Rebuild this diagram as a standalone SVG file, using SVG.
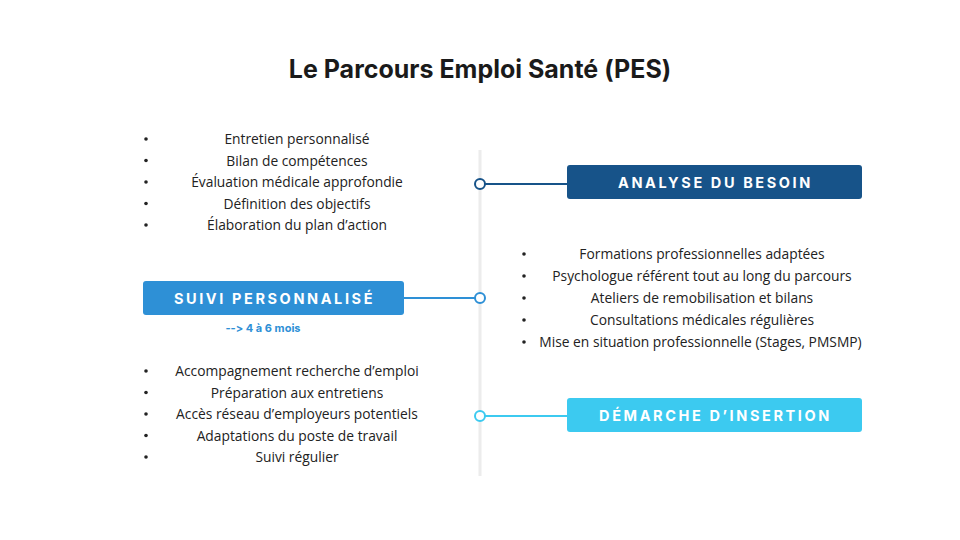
<svg xmlns="http://www.w3.org/2000/svg" width="960" height="540" viewBox="0 0 960 540">
<style>
text{font-variant-ligatures:none;font-feature-settings:"calt" 0,"liga" 0}
.title{font-family:Inter,"Liberation Sans",sans-serif;font-weight:700;font-size:25px;fill:#1a1a1a}
.item{font-family:"Open Sans","Liberation Sans",sans-serif;font-size:13.8px;fill:#222;text-anchor:middle}
.dot{fill:#222}
.lbl{font-family:Inter,"Liberation Sans",sans-serif;font-weight:700;font-size:14.5px;fill:#fff;letter-spacing:2.6px;text-anchor:middle}
.sub{font-family:Inter,"Liberation Sans",sans-serif;font-weight:700;font-size:11px;fill:#2e90d6;text-anchor:middle}
</style>
<rect width="960" height="540" fill="#fff"/>
<text class="title" x="480" y="78" text-anchor="middle">Le Parcours Emploi Santé (PES)</text>
<g id="connectors">
<line x1="480" y1="150" x2="480" y2="476" stroke="#ececec" stroke-width="3"/>
<line x1="485" y1="184" x2="568" y2="184" stroke="#175389" stroke-width="2"/>
<line x1="404" y1="298" x2="475" y2="298" stroke="#2e90d6" stroke-width="2"/>
<line x1="485" y1="416" x2="568" y2="416" stroke="#3ccaf0" stroke-width="2"/>
<circle cx="480" cy="184" r="5" fill="#fff" stroke="#175389" stroke-width="2"/>
<circle cx="480" cy="298" r="5" fill="#fff" stroke="#2e90d6" stroke-width="2"/>
<circle cx="480" cy="416" r="5" fill="#fff" stroke="#3ccaf0" stroke-width="2"/>
</g>
<g id="analyse">
<rect x="567" y="165" width="295" height="34" rx="3" fill="#175389"/>
<text class="lbl" x="715.5" y="187.5">ANALYSE DU BESOIN</text>
</g>
<g id="suivi">
<rect x="143" y="281" width="261" height="34" rx="3" fill="#2e90d6"/>
<text class="lbl" x="274.5" y="303.5">SUIVI PERSONNALISÉ</text>
<text class="sub" x="263" y="332">--&gt; 4 à 6 mois</text>
</g>
<g id="demarche">
<rect x="567" y="398" width="295" height="34" rx="3" fill="#3ccaf0"/>
<text class="lbl" x="715.5" y="420.5">DÉMARCHE D’INSERTION</text>
</g>
<g id="list-analyse">
<circle class="dot" cx="146" cy="139" r="1.8"/><text class="item" x="297" y="144">Entretien personnalisé</text>
<circle class="dot" cx="146" cy="160.5" r="1.8"/><text class="item" x="297" y="165.5">Bilan de compétences</text>
<circle class="dot" cx="146" cy="182" r="1.8"/><text class="item" x="297" y="187">Évaluation médicale approfondie</text>
<circle class="dot" cx="146" cy="203.5" r="1.8"/><text class="item" x="297" y="208.5">Définition des objectifs</text>
<circle class="dot" cx="146" cy="225" r="1.8"/><text class="item" x="297" y="230">Élaboration du plan d’action</text>
</g>
<g id="list-suivi">
<circle class="dot" cx="524" cy="254" r="1.8"/><text class="item" x="702" y="259">Formations professionnelles adaptées</text>
<circle class="dot" cx="524" cy="276" r="1.8"/><text class="item" x="702" y="281">Psychologue référent tout au long du parcours</text>
<circle class="dot" cx="524" cy="298" r="1.8"/><text class="item" x="702" y="303">Ateliers de remobilisation et bilans</text>
<circle class="dot" cx="524" cy="320" r="1.8"/><text class="item" x="702" y="325">Consultations médicales régulières</text>
<circle class="dot" cx="524" cy="342" r="1.8"/><text class="item" x="700.5" y="347">Mise en situation professionnelle (Stages, PMSMP)</text>
</g>
<g id="list-demarche">
<circle class="dot" cx="146" cy="371" r="1.8"/><text class="item" x="297" y="376">Accompagnement recherche d’emploi</text>
<circle class="dot" cx="146" cy="392.5" r="1.8"/><text class="item" x="297" y="397.5">Préparation aux entretiens</text>
<circle class="dot" cx="146" cy="414" r="1.8"/><text class="item" x="297" y="419">Accès réseau d’employeurs potentiels</text>
<circle class="dot" cx="146" cy="435.5" r="1.8"/><text class="item" x="297" y="440.5">Adaptations du poste de travail</text>
<circle class="dot" cx="146" cy="457" r="1.8"/><text class="item" x="297" y="462">Suivi régulier</text>
</g>
</svg>
